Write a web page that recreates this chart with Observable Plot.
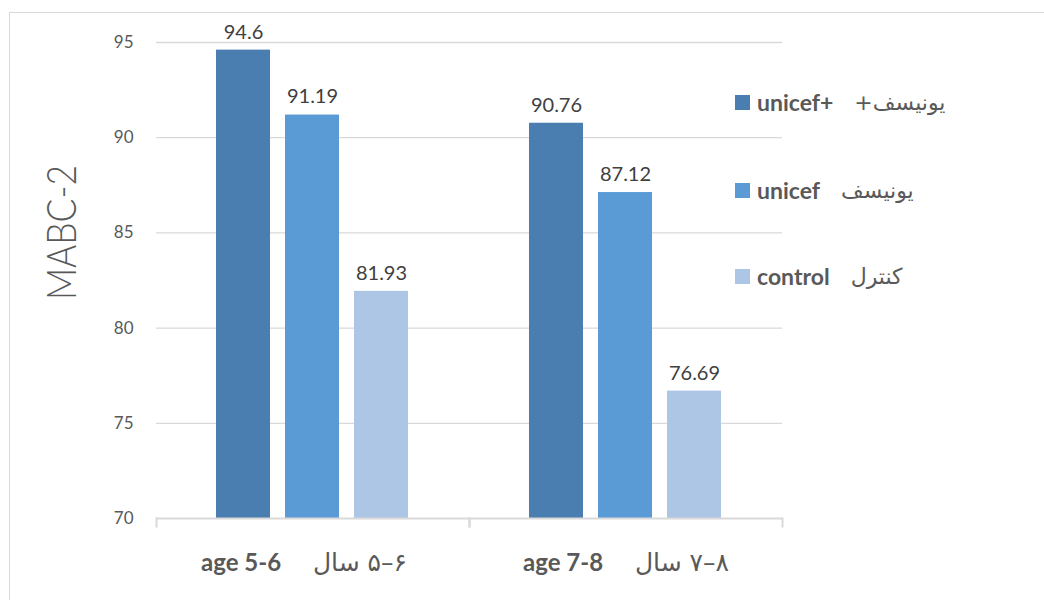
<!DOCTYPE html>
<html>
<head>
<meta charset="utf-8">
<script src="https://cdn.jsdelivr.net/npm/d3@7"></script>
<script src="https://cdn.jsdelivr.net/npm/@observablehq/plot@0.6"></script>
<style>
  body { margin: 0; background: #fff; }
  #wrap { position: relative; width: 1044px; height: 600px; overflow: hidden; font-family: Lato, "DejaVu Sans", sans-serif; }
  #border { position: absolute; left: 9px; top: 12px; width: 1200px; height: 800px; border: 1.5px solid #d9d9d9; box-sizing: border-box; }
  #chart { position: absolute; left: 0; top: 0; }
  #legend { position: absolute; left: 735px; top: 0; color: #595959; }
  .row { position: absolute; left: 0; white-space: nowrap; display: flex; align-items: center; height: 24px; }
  .sw { display: inline-block; width: 15px; height: 15px; margin-right: 7px; }
  .en { font-weight: bold; font-size: 23px; }
  .gap { display: inline-block; width: 21px; }
  .fa { font-weight: normal; font-size: 22px; font-family: "DejaVu Sans", sans-serif; }
</style>
</head>
<body>
<div id="wrap">
  <div id="border"></div>
  <div id="chart"></div>
  <div id="legend"></div>
</div>
<script>
// ---- data ----
const groups = ["age 5-6", "age 7-8"];
const groupsFaNum = ["۵–۶", "۷–۸"];
const groupsFaWord = "سال";
const series = ["unicef+", "unicef", "control"];
const seriesFa = ["یونیسف+", "یونیسف", "کنترل"];
const colors = ["#4a7eb0", "#5b9bd5", "#adc6e6"];
const values56 = [94.6, 91.19, 81.93];
const values78 = [90.76, 87.12, 76.69];
const labels56 = ["94.6", "91.19", "81.93"];
const labels78 = ["90.76", "87.12", "76.69"];
const yTicks = [70, 75, 80, 85, 90, 95];
const yTitle = "MABC-2";

const data = [];
series.forEach((s, i) => data.push({group: groups[0], series: s, value: values56[i], label: labels56[i]}));
series.forEach((s, i) => data.push({group: groups[1], series: s, value: values78[i], label: labels78[i]}));

const gray = "#595959";
const grid = "#d9d9d9";

const chart = Plot.plot({
  width: 1044,
  height: 600,
  marginLeft: 156,
  marginRight: 262,
  marginTop: 42,
  marginBottom: 82,
  style: {fontFamily: 'Lato, "DejaVu Sans", sans-serif', background: "transparent", overflow: "visible"},
  fx: {domain: groups, padding: 0, label: null},
  x: {domain: series, paddingInner: 0.214, paddingOuter: 0.843, axis: null},
  y: {domain: [70, 95], axis: null},
  color: {domain: series, range: colors},
  marks: [
    Plot.gridY(yTicks.slice(1), {stroke: grid, strokeOpacity: 1, strokeWidth: 1.3}),
    Plot.barY(data, {fx: "group", x: "series", y1: 70, y2: "value", fill: "series"}),
    Plot.ruleY([70], {stroke: grid, strokeWidth: 2}),
    Plot.frame({anchor: "left", stroke: grid, strokeWidth: 2, strokeOpacity: 1, insetTop: 476, insetBottom: -8}),
    Plot.frame({anchor: "right", stroke: grid, strokeWidth: 2, strokeOpacity: 1, insetTop: 476, insetBottom: -8}),
    Plot.text(data, {fx: "group", x: "series", y: "value", text: "label", dy: -18, fontSize: 20, fill: "#404040"}),
    Plot.axisY(yTicks, {anchor: "left", tickSize: 0, tickPadding: 23, fontSize: 17, fill: gray, label: null}),
    Plot.text([yTitle], {frameAnchor: "left", facetAnchor: "left", rotate: -90, textAnchor: "middle", lineAnchor: "middle", dx: -94, dy: -48, fontSize: 42, fontWeight: 300, fill: gray, text: d => d}),
    Plot.axisFx({anchor: "bottom", tickSize: 0, tickPadding: 35, fontSize: 24, fontWeight: "bold", fill: gray, label: null, tickFormat: d => d})
  ]
});
document.getElementById("chart").appendChild(chart);

// y title: condense to the reference's narrower face
d3.select(chart).selectAll("text").filter(function() { return this.textContent === yTitle; })
  .attr("textLength", 135).attr("lengthAdjust", "spacingAndGlyphs");

// mixed-direction x labels: bold English, regular Persian (RTL isolated)
const labelShift = [-9, 0];
d3.select(chart).selectAll('[aria-label="fx-axis tick label"] text').each(function() {
  const t = d3.select(this);
  const key = this.textContent;
  const i = groups.indexOf(key);
  if (i < 0) return;
  t.text(null).attr("dx", labelShift[i]);
  t.append("tspan").attr("font-weight", "bold").text(key);
  t.append("tspan").attr("font-weight", "normal").attr("font-family", '"DejaVu Sans", sans-serif')
    .attr("font-size", 25)
    .text("\u00a0\u00a0\u00a0\u00a0\u2067\u2066" + groupsFaNum[i] + "\u2069 " + groupsFaWord + "\u2069");
});

// legend
const legend = d3.select("#legend");
const rowTops = [90, 178, 264];
series.forEach((s, i) => {
  const r = legend.append("div").attr("class", "row").style("top", rowTops[i] + "px");
  r.append("span").attr("class", "sw").style("background", colors[i]);
  r.append("span").attr("class", "en").text(s);
  r.append("span").attr("class", "gap");
  r.append("bdi").attr("dir", "rtl").attr("class", "fa").text(seriesFa[i]);
});
</script>
</body>
</html>
